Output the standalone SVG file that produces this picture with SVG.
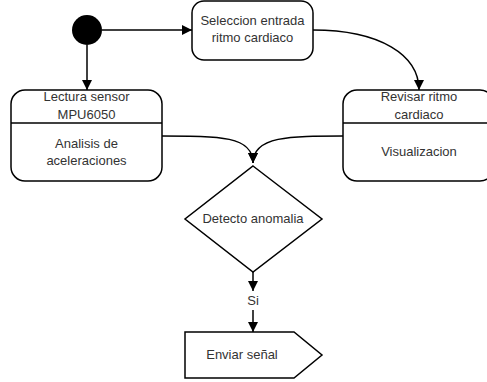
<svg xmlns="http://www.w3.org/2000/svg" width="487" height="382" viewBox="0 0 487 382">
<defs>
<marker id="arr" viewBox="0 0 10 10" refX="10" refY="5" markerWidth="10" markerHeight="10" markerUnits="userSpaceOnUse" orient="auto">
<path d="M0,0 L10,5 L0,10 Z" fill="#000"/>
</marker>
<style>
.n{fill:#fff;stroke:#000;stroke-width:1.5}
.t{font-family:"Liberation Sans",Arial,sans-serif;font-size:13px;fill:#333;text-anchor:middle}
.c{fill:none;stroke:#000;stroke-width:1.5;marker-end:url(#arr)}
</style>
</defs>
<rect width="487" height="382" fill="#fff"/>
<g id="connectors">
<path class="c" d="M102,30 L192,30"/>
<path class="c" d="M87,45 L87,90"/>
<path class="c" d="M313,30 C380,30 419,55 419,90"/>
<path class="c" d="M162,136 C220,136 253,136 253,163"/>
<path class="c" d="M343,136 C290,136 253,136 253,163"/>
<path class="c" d="M253,272 L253,291"/>
<path class="c" d="M253,310 L253,332"/>
<text class="t" x="253" y="305">Si</text>
</g>
<g id="start"><circle cx="87" cy="30" r="15" fill="#000"/></g>
<g id="seleccion">
<rect class="n" x="192" y="1" width="121" height="59" rx="12"/>
<text class="t" x="252.5" y="25">Seleccion entrada</text>
<text class="t" x="252.5" y="42">ritmo cardiaco</text>
</g>
<g id="lectura">
<rect class="n" x="11" y="90" width="151" height="91" rx="14"/>
<line x1="11" y1="123" x2="162" y2="123" stroke="#000" stroke-width="1.5"/>
<text class="t" x="86.5" y="101">Lectura sensor</text>
<text class="t" x="86.5" y="119">MPU6050</text>
<text class="t" x="86.5" y="148">Analisis de</text>
<text class="t" x="86.5" y="165">aceleraciones</text>
</g>
<g id="revisar">
<rect class="n" x="343" y="90" width="151" height="91" rx="14"/>
<line x1="343" y1="123" x2="494" y2="123" stroke="#000" stroke-width="1.5"/>
<text class="t" x="419" y="101">Revisar ritmo</text>
<text class="t" x="419" y="119">cardiaco</text>
<text class="t" x="419" y="156">Visualizacion</text>
</g>
<g id="detecto">
<polygon class="n" points="253,166 322,219 253,272 185,219"/>
<text class="t" x="253" y="223">Detecto anomalia</text>
</g>
<g id="enviar">
<polygon class="n" points="185,332 294,332 322,355 294,378 185,378"/>
<text class="t" x="242" y="359">Enviar señal</text>
</g>
</svg>
